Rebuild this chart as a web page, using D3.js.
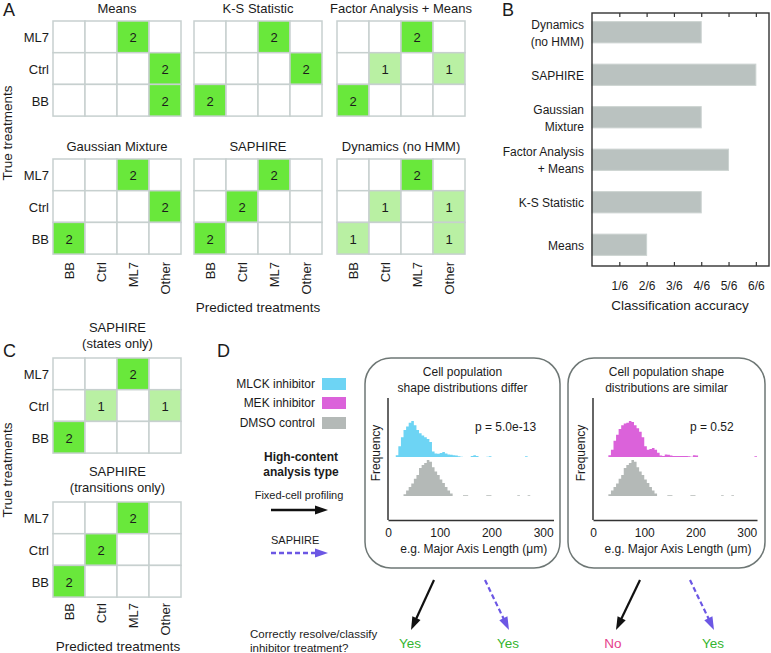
<!DOCTYPE html>
<html><head><meta charset="utf-8">
<script src="https://cdnjs.cloudflare.com/ajax/libs/d3/7.8.5/d3.min.js"></script>
<style>body{margin:0;background:#fff}svg{display:block;font-family:"Liberation Sans",Arial,sans-serif}</style>
</head><body><svg id="c" width="771" height="653"></svg>
<script>
// ---------------- DATA ----------------
const predCats = ["BB", "Ctrl", "ML7", "Other"];
const trueCats = ["ML7", "Ctrl", "BB"];
const methodsA = ["Means", "K-S Statistic", "Factor Analysis + Means", "Gaussian Mixture", "SAPHIRE", "Dynamics (no HMM)"];
// rows: ML7, Ctrl, BB ; cols: BB, Ctrl, ML7, Other
const mMeans    = [[0,0,2,0],[0,0,0,2],[0,0,0,2]];
const mKS       = [[0,0,2,0],[0,0,0,2],[2,0,0,0]];
const mFactor   = [[0,0,2,0],[0,1,0,1],[2,0,0,0]];
const mGauss    = [[0,0,2,0],[0,0,0,2],[2,0,0,0]];
const mSaphire  = [[0,0,2,0],[0,2,0,0],[2,0,0,0]];
const mDynamics = [[0,0,2,0],[0,1,0,1],[1,0,0,1]];
const titlesC = [["SAPHIRE", "(states only)"], ["SAPHIRE", "(transitions only)"]];
const mStates      = [[0,0,2,0],[0,1,0,1],[2,0,0,0]];
const mTransitions = [[0,0,2,0],[0,2,0,0],[2,0,0,0]];

const accCats   = ["Dynamics (no HMM)", "SAPHIRE", "Gaussian Mixture", "Factor Analysis + Means", "K-S Statistic", "Means"];
const accLabels = [["Dynamics", "(no HMM)"], ["SAPHIRE"], ["Gaussian", "Mixture"], ["Factor Analysis", "+ Means"], ["K-S Statistic"], ["Means"]];
const accValues = [4, 6, 4, 5, 4, 2]; // correct out of 6
const accTicks  = [1, 2, 3, 4, 5, 6];
const accTickLabels = ["1/6", "2/6", "3/6", "4/6", "5/6", "6/6"];

const binStart = [0,5,10,15,20,25,30,35,40,45,50,55,60,65,70,75,80,85,90,95,100,105,110,115,120,125,130,135,140,145,150,155,
                  160,165,170,175,180,185,190,195,200,205,210,215,220,225,230,235,240,245,250,255,260,265,270,275,280,285,290,295,300,305,310,315];
const mlck = [0,0,0,0.05,0.3,0.55,0.75,0.85, 0.95,1.0,0.88,0.75,0.66,0.6,0.55,0.5, 0.42,0.15,0.1,0.09,0.11,0.14,0.1,0.07,
              0.06,0.05,0.04,0.02,0.01,0,0,0, 0.03,0.05,0.03,0,0,0,0.01,0.02, 0,0,0,0,0,0,0,0, 0,0,0,0,0,0.02,0,0, 0,0,0,0,0,0,0,0];
const mek  = [0,0,0,0,0,0,0.05,0.2, 0.45,0.62,0.78,0.88,0.93,0.95,1.0,0.97, 0.88,0.8,0.7,0.55,0.3,0.2,0.22,0.25,
              0.2,0.12,0.04,0.03,0.07,0.06,0.04,0.03, 0.03,0.03,0.03,0.03,0.03,0.02,0.01,0.05, 0.04,0,0,0,0,0,0,0, 0,0,0,0,0,0,0,0, 0,0,0,0,0,0,0,0.02];
const dmso = [0,0,0,0,0,0,0.05,0.15, 0.25,0.35,0.48,0.58,0.78,0.86,0.92,1.0, 0.95,0.8,0.68,0.58,0.46,0.36,0.25,0.15,
              0.07,0,0,0,0,0.02,0.02,0, 0,0,0,0,0,0,0.02,0.02, 0,0,0,0,0,0,0,0, 0,0,0.02,0,0,0,0.02,0, 0,0,0,0,0,0,0,0];
const histTicks = [0, 100, 200, 300];
const legendNames = ["MLCK inhibitor", "MEK inhibitor", "DMSO control"];
const pValues = ["p = 5.0e-13", "p = 0.52"];
const outcomes = [["Yes", true], ["Yes", true], ["No", false], ["Yes", true]];

// ---------------- STYLE ----------------
const C = {
  full: "#69e83b", half: "#b9f0a3", grid: "#c7d0cf", text: "#1b1b1b",
  bar: "#bac2c0", barStroke: "#ccd3d1",
  blue: "#6dd4f4", magenta: "#db62da", gray: "#b4b9b7",
  box: "#6e7775", purple: "#6c57e4", yes: "#34b52f", no: "#e63f8c"
};
const svg = d3.select("#c");

// ---------------- helpers ----------------
function txt(g, x, y, s, o = {}) {
  const t = g.append("text").attr("x", x).attr("y", y).text(s)
    .attr("font-size", o.size || 13).attr("fill", o.fill || C.text)
    .attr("text-anchor", o.anchor || "middle").attr("dominant-baseline", o.base || "central");
  if (o.weight) t.attr("font-weight", o.weight);
  if (o.rotate) t.attr("transform", `rotate(${o.rotate},${x},${y})`);
  return t;
}

const cellW = 32, cellH = 31.7;
const fillScale = d3.scaleOrdinal().domain([0, 1, 2]).range(["#ffffff", C.half, C.full]);

function matrix(x0, y0, data, rowLabels, colLabels, colLabelY) {
  const g = svg.append("g");
  const xs = d3.scaleBand().domain(predCats).range([x0, x0 + cellW * predCats.length]);
  const ys = d3.scaleBand().domain(trueCats).range([y0, y0 + cellH * trueCats.length]);
  const cells = [];
  trueCats.forEach((r, i) => predCats.forEach((c, j) => cells.push({ r, c, v: data[i][j] })));
  g.selectAll("rect").data(cells).join("rect")
    .attr("x", d => xs(d.c)).attr("y", d => ys(d.r))
    .attr("width", xs.bandwidth()).attr("height", ys.bandwidth())
    .attr("fill", d => fillScale(d.v)).attr("stroke", C.grid).attr("stroke-width", 1.5);
  cells.filter(d => d.v > 0).forEach(d =>
    txt(g, xs(d.c) + xs.bandwidth() / 2, ys(d.r) + ys.bandwidth() / 2 + 1, d.v, { size: 13 }));
  if (rowLabels) trueCats.forEach(r => txt(g, x0 - 4, ys(r) + ys.bandwidth() / 2 + 1, r, { anchor: "end", size: 13 }));
  if (colLabels) predCats.forEach(c => txt(g, xs(c) + xs.bandwidth() / 2, colLabelY, c, { anchor: "end", size: 13, rotate: -90 }));
  return xs;
}

// ---------------- PANEL A ----------------
txt(svg, 3, 15.5, "A", { size: 18, anchor: "start", base: "alphabetic" });
const colX = [53, 194, 337], rowY = [21, 159];
const dataA = [mMeans, mKS, mFactor, mGauss, mSaphire, mDynamics];
dataA.forEach((m, k) => {
  const cx = colX[k % 3], cy = rowY[Math.floor(k / 3)];
  const bottom = k >= 3;
  matrix(cx, cy, m, k % 3 === 0, bottom, 262);
  txt(svg, cx + 64, cy - 13, methodsA[k], { size: 13 });
});
txt(svg, 258, 307, "Predicted treatments", { size: 13.5 });
txt(svg, 7, 133, "True treatments", { size: 13.5, rotate: -90 });

// ---------------- PANEL B ----------------
txt(svg, 502, 15.5, "B", { size: 18, anchor: "start", base: "alphabetic" });
const bx = d3.scaleLinear().domain([0, 6.5]).range([592, 769.5]);
const by = d3.scaleBand().domain(accCats).range([11, 266]).paddingInner(0.5).paddingOuter(0.25);
const gB = svg.append("g");
gB.selectAll("rect.bar").data(accCats).join("rect").attr("class", "bar")
  .attr("x", bx(0)).attr("y", d => by(d))
  .attr("width", (d, i) => bx(accValues[i]) - bx(0)).attr("height", by.bandwidth())
  .attr("fill", C.bar).attr("stroke", C.barStroke).attr("stroke-width", 1);
gB.append("rect").attr("x", 592).attr("y", 13).attr("width", 177).attr("height", 253)
  .attr("fill", "none").attr("stroke", "#333").attr("stroke-width", 1.4);
const axB = gB.append("g").attr("transform", "translate(0,266)")
  .call(d3.axisBottom(bx).tickValues(accTicks).tickFormat((d, i) => accTickLabels[i]).tickSizeInner(-4).tickSizeOuter(0).tickPadding(15));
axB.select(".domain").remove();
axB.selectAll("text").attr("font-size", 12).attr("fill", C.text).attr("font-family", "Liberation Sans, Arial, sans-serif");
axB.selectAll("line").attr("stroke", "#333").attr("stroke-width", 1.2);
const axBt = gB.append("g").attr("transform", "translate(0,13)")
  .call(d3.axisTop(bx).tickValues(accTicks).tickFormat("").tickSizeInner(-4).tickSizeOuter(0));
axBt.select(".domain").remove();
axBt.selectAll("line").attr("stroke", "#333").attr("stroke-width", 1.2);
accCats.forEach((c, i) => {
  const lines = accLabels[i], n = lines.length;
  lines.forEach((s, j) => txt(gB, 584, by(c) + by.bandwidth() / 2 + 1 + (j - (n - 1) / 2) * 17, s, { anchor: "end", size: 12 }));
});
txt(gB, 680, 305, "Classification accuracy", { size: 13.5 });

// ---------------- PANEL C ----------------
txt(svg, 3, 357, "C", { size: 18, anchor: "start", base: "alphabetic" });
[[mStates, 358], [mTransitions, 502]].forEach(([m, y0], k) => {
  matrix(53, y0, m, true, k === 1, 603);
  titlesC[k].forEach((s, j) => txt(svg, 117.5, y0 - 31 + j * 16.5, s, { size: 13 }));
});
txt(svg, 118, 646, "Predicted treatments", { size: 13.5 });
txt(svg, 7, 470, "True treatments", { size: 13.5, rotate: -90 });

// ---------------- PANEL D ----------------
txt(svg, 217, 357, "D", { size: 18, anchor: "start", base: "alphabetic" });
const gD = svg.append("g");
const legColors = [C.blue, C.magenta, C.gray];
const legY = [384, 403, 423];
legendNames.forEach((n, i) => {
  txt(gD, 315, legY[i], n, { anchor: "end", size: 12 });
  gD.append("rect").attr("x", 322).attr("y", legY[i] - 6).attr("width", 24).attr("height", 12).attr("fill", legColors[i]);
});
txt(gD, 301, 457, "High-content", { size: 12, weight: "bold" });
txt(gD, 301, 472, "analysis type", { size: 12, weight: "bold" });
txt(gD, 299, 495, "Fixed-cell profiling", { size: 11 });
txt(gD, 271, 540, "SAPHIRE", { size: 11, anchor: "start" });

function arrow(x1, y1, x2, y2, color, dashed, w) {
  const dx = x2 - x1, dy = y2 - y1, L = Math.hypot(dx, dy), ux = dx / L, uy = dy / L;
  const hl = 13, hw = 4.5;
  const bxp = x2 - ux * hl, byp = y2 - uy * hl;
  gD.append("line").attr("x1", x1).attr("y1", y1).attr("x2", x2 - ux * (hl - 2)).attr("y2", y2 - uy * (hl - 2))
    .attr("stroke", color).attr("stroke-width", w).attr("stroke-dasharray", dashed ? "5,3" : null);
  gD.append("path").attr("d", `M${x2},${y2}L${bxp - uy * hw},${byp + ux * hw}L${bxp + uy * hw},${byp - ux * hw}Z`).attr("fill", color);
}
arrow(271, 510, 328, 510, "#111", false, 2.5);
arrow(271, 553, 328, 553, C.purple, true, 2.5);

const boxes = [
  { x: 365, w: 195, ax: [388, 553.5], series: [mlck, dmso], colors: [C.blue, C.gray], t: ["Cell population", "shape distributions differ"], p: pValues[0], px: 475 },
  { x: 568, w: 197, ax: [593, 757], series: [mek, dmso], colors: [C.magenta, C.gray], t: ["Cell population shape", "distributions are similar"], p: pValues[1], px: 690 }
];
const hY = d3.scaleLinear().domain([0, 1]).range([0, 36]);
const bases = [457, 496];
boxes.forEach(b => {
  gD.append("rect").attr("x", b.x).attr("y", 358).attr("width", b.w).attr("height", 210).attr("rx", 26)
    .attr("fill", "none").attr("stroke", C.box).attr("stroke-width", 1.5);
  const cx = b.x + b.w / 2;
  b.t.forEach((s, j) => txt(gD, cx, 372 + j * 15.5, s, { size: 12 }));
  const x = d3.scaleLinear().domain([0, 320]).range(b.ax);
  b.series.forEach((vals, k) => {
    const pts = binStart.map((s, i) => ({ x: s, v: vals[i] })).concat([{ x: 320, v: 0 }]);
    const area = d3.area().x(d => x(d.x)).y0(bases[k]).y1(d => bases[k] - hY(d.v)).curve(d3.curveStepAfter);
    gD.append("path").attr("d", area(pts)).attr("fill", b.colors[k]);
  });
  gD.append("line").attr("x1", b.ax[0]).attr("x2", b.ax[0]).attr("y1", 398).attr("y2", 520).attr("stroke", "#333").attr("stroke-width", 1.5);
  const ax = gD.append("g").attr("transform", "translate(0,520)")
    .call(d3.axisBottom(x).tickValues(histTicks).tickSizeInner(0).tickSizeOuter(0).tickPadding(8));
  ax.select(".domain").attr("stroke", "#333").attr("stroke-width", 1.5);
  ax.selectAll("text").attr("font-size", 12).attr("fill", C.text).attr("font-family", "Liberation Sans, Arial, sans-serif");
  txt(gD, (b.ax[0] + b.ax[1]) / 2 + 3, 549, "e.g. Major Axis Length (\u03bcm)", { size: 12 });
  txt(gD, b.ax[0] - 12, 453, "Frequency", { size: 12, rotate: -90 });
  txt(gD, b.px, 427, b.p, { size: 12, anchor: "start" });
});

// outcome arrows
const arrowsOut = [[434, 580, 411, 630, false], [485, 580, 509, 630, true], [640, 580, 616, 630, false], [690, 580, 714, 630, true]];
arrowsOut.forEach((a, i) => {
  arrow(a[0], a[1], a[2], a[3], a[4] ? C.purple : "#111", a[4], 2.2);
  txt(gD, a[2] - 1 + (i === 2 ? -2 : 0), 643, outcomes[i][0], { size: 13.5, fill: outcomes[i][1] ? C.yes : C.no });
});
txt(gD, 250, 634, "Correctly resolve/classify", { size: 11.5, anchor: "start" });
txt(gD, 250, 647.5, "inhibitor treatment?", { size: 11.5, anchor: "start" });
</script></body></html>
